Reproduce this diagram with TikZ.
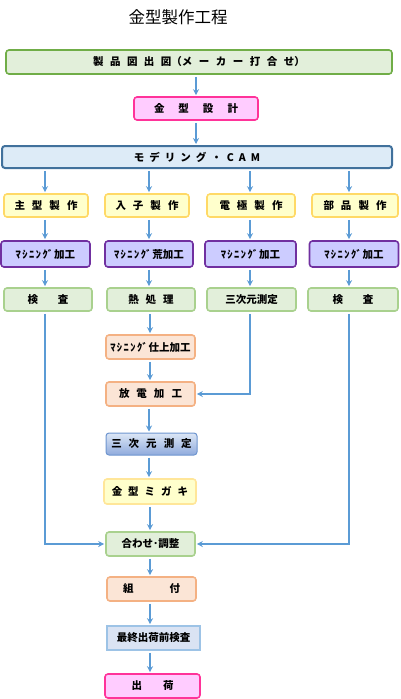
\documentclass[tikz,border=0pt]{standalone}
\usepackage{fontspec}
\newfontfamily\jp{Noto Sans CJK JP}
\usetikzlibrary{arrows.meta,calc}
\definecolor{arrc}{HTML}{5B9BD5}
\definecolor{gfill}{HTML}{E2EFDA}\definecolor{gdark}{HTML}{70AD47}\definecolor{glite}{HTML}{A9D18E}
\definecolor{pfill}{HTML}{FFCCFF}\definecolor{pdraw}{HTML}{FF3399}
\definecolor{bfill}{HTML}{DDEBF7}\definecolor{bdraw}{HTML}{41719C}
\definecolor{yfill}{HTML}{FFFFCC}\definecolor{ydraw}{HTML}{FFD966}\definecolor{ydrawb}{HTML}{FFE699}
\definecolor{vfill}{HTML}{CCCCFF}\definecolor{vdraw}{HTML}{7030A0}
\definecolor{ofill}{HTML}{FBE5D6}\definecolor{odraw}{HTML}{F4B183}
\definecolor{sfill}{HTML}{DAE3F3}\definecolor{sdraw}{HTML}{9DC3E6}
\definecolor{gtop}{HTML}{DCE7F6}\definecolor{gbot}{HTML}{8FAADC}\definecolor{gbd}{HTML}{6E95CF}
\newcommand\gsp[1]{\hspace{#1pt}}
\newcommand\mkana{ﾏ\gsp{1.5}ｼ\gsp{1.5}ﾆ\gsp{1.5}ﾝ\gsp{1.5}ｸﾞ\gsp{1}}
\tikzset{
  box/.style={rounded corners=3pt, line width=1.6pt, inner sep=0pt, align=center,
    font=\jp\bfseries\fontsize{10.5}{12}\selectfont},
  greenA/.style={box, fill=gfill, draw=gdark},
  greenB/.style={box, fill=gfill, draw=glite},
  pinkbox/.style={box, fill=pfill, draw=pdraw},
  bluebox/.style={box, fill=bfill, draw=bdraw},
  yelbox/.style={box, fill=yfill, draw=ydraw},
  yelboxb/.style={box, fill=yfill, draw=ydrawb},
  purbox/.style={box, fill=vfill, draw=vdraw},
  orabox/.style={box, fill=ofill, draw=odraw},
  sqbox/.style={box, rounded corners=0pt, fill=sfill, draw=sdraw},
  gradbox/.style={box, top color=gtop, bottom color=gbot, draw=gbd, line width=1pt},
  arr/.style={draw=arrc, line width=1.4pt, -{Stealth[length=6pt,width=6pt]}, shorten <=2pt, shorten >=1pt},
  sz/.style 2 args={minimum width=#1pt, minimum height=#2pt}
}
\begin{document}
\begin{tikzpicture}[x=1pt,y=-1pt]
\useasboundingbox (0,0) rectangle (400,699);
\node[font=\jp\fontsize{16.5}{18}\selectfont] (title) at (178,17) {金型製作工程};

\coordinate (x1) at (45,0);
\coordinate (x2) at (149,0);
\coordinate (x3) at (250,0);
\coordinate (x4) at (349,0);
\coordinate (x5) at (150,0);

\node[greenA, sz={386}{24}] (b1) at (199,62) {製\gsp{6.5}品\gsp{6.5}図\gsp{6.5}出\gsp{6.5}図（メ\gsp{6.5}ー\gsp{6.5}カ\gsp{6.5}ー\gsp{6.5}打\gsp{6.5}合\gsp{6.5}せ）};
\node[pinkbox, sz={124}{23}] (b2) at (196,108.5) {金\gsp{14}型\gsp{14}設\gsp{14}計};
\node[bluebox, sz={390}{22}, line width=2pt] (b3) at (197,157) {モ\gsp5デ\gsp5リ\gsp5ン\gsp5グ\gsp5・\gsp5C\gsp5A\gsp5M};

\node[yelbox, sz={84}{23}] (a1) at (46,205.5) {主\gsp7型\gsp7製\gsp7作};
\node[yelbox, sz={84}{23}] (a2) at (147,205.5) {入\gsp7子\gsp7製\gsp7作};
\node[yelbox, sz={88}{23}] (a3) at (251,205.5) {電\gsp7極\gsp7製\gsp7作};
\node[yelbox, sz={86}{23}] (a4) at (355,205.5) {部\gsp7品\gsp7製\gsp7作};

\node[purbox, sz={89}{26}] (m1) at (45.5,254) {\mkana 加工};
\node[purbox, sz={88}{26}] (m2) at (149,254) {\mkana 荒加工};
\node[purbox, sz={91}{26}] (m3) at (250.5,254) {\mkana 加工};
\node[purbox, sz={89}{26}] (m4) at (354,254) {\mkana 加工};

\node[greenB, sz={88}{23}] (c1) at (48,299.5) {検\gsp{20}査};
\node[greenB, sz={88}{23}] (c2) at (151,299.5) {熱\gsp7処\gsp7理};
\node[greenB, sz={89}{23}] (c3) at (251.5,299.5) {三次元測定};
\node[greenB, sz={90}{23}] (c4) at (353,299.5) {検\gsp{20}査};

\node[orabox, sz={89}{24}] (d1) at (150.5,347) {\mkana 仕上加工};
\node[orabox, sz={89}{24}] (d2) at (150.5,394) {放\gsp7電\gsp7加\gsp7工};
\node[gradbox, sz={91}{22}] (d3) at (151.5,444) {三\gsp7次\gsp7元\gsp7測\gsp7定};
\node[yelboxb, sz={92}{25}] (d4) at (150,491.5) {金\gsp6型\gsp6ミ\gsp6ガ\gsp6キ};
\node[greenB, sz={89}{24}] (d5) at (150.5,544) {合わせ･調整};
\node[orabox, sz={89}{24}] (d6) at (151.5,589) {組\gsp{36}付};
\node[sqbox, sz={93}{24}] (d7) at (153.5,638) {最終出荷前検査};
\node[pinkbox, sz={95}{24}] (d8) at (152.5,686) {出\gsp{21}荷};

\draw[arr] (b1.south -| b2.north) -- (b2.north);
\draw[arr] (b2.south) -- (b2.south |- b3.north);
\foreach \i in {1,2,3,4}{
  \draw[arr] (b3.south -| x\i) -- (a\i.north -| x\i);
  \draw[arr] (a\i.south -| x\i) -- (m\i.north -| x\i);
  \draw[arr] (m\i.south -| x\i) -- (c\i.north -| x\i);
}
\draw[arr] (c2.south -| x5) -- (d1.north -| x5);
\draw[arr] (d1.south -| x5) -- (d2.north -| x5);
\draw[arr] (d2.south -| x2) -- (d3.north -| x2);
\draw[arr] (d3.south -| x2) -- (d4.north -| x2);
\draw[arr] (d4.south -| x5) -- (d5.north -| x5);
\draw[arr] (d5.south -| x5) -- (d6.north -| x5);
\draw[arr] (d6.south -| x5) -- (d7.north -| x5);
\draw[arr] (d7.south -| x5) -- (d8.north -| x5);

\draw[arr] (c1.south -| x1) |- (d5.west);
\draw[arr] (c3.south -| x3) |- (d2.east);
\draw[arr] (c4.south -| x4) |- (d5.east);
\end{tikzpicture}
\end{document}
